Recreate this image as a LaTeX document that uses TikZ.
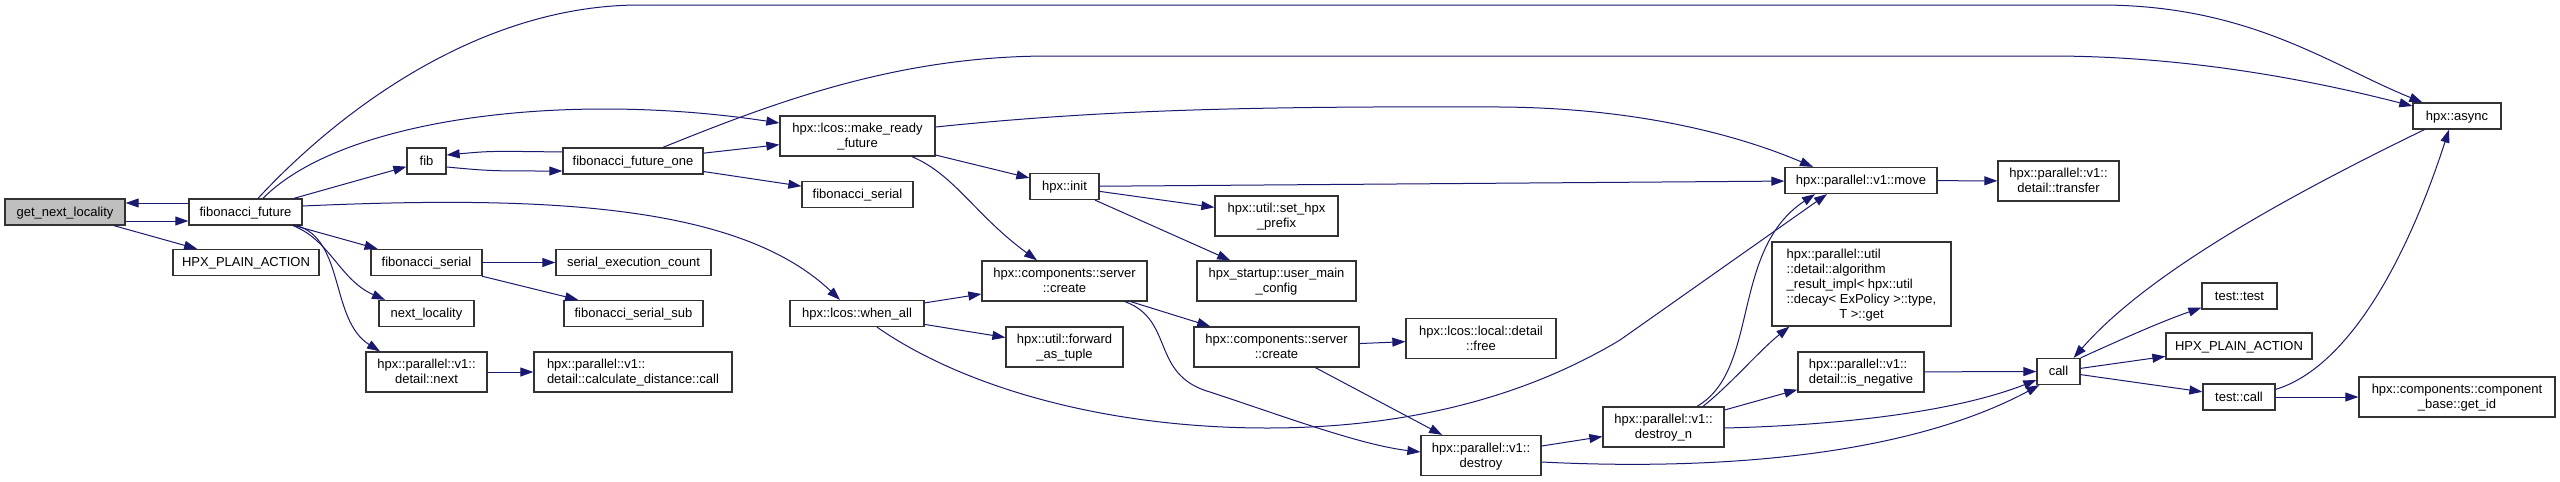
\documentclass[tikz,border=0pt]{standalone}
\usepackage{fontspec}
\setmainfont{Liberation Sans}
\usetikzlibrary{arrows.meta}
\definecolor{edgeblue}{RGB}{25,25,112}
\definecolor{rootgray}{RGB}{191,191,191}
\tikzset{
fn_base/.style={rectangle, draw=black!80, line width=1.3pt, fill=white, inner sep=0pt, minimum height=26pt, text height=10pt, text depth=2pt, font=\fontsize{13pt}{15pt}\selectfont},
fn_box/.style={fn_base, align=center},
fn_two/.style={fn_box, minimum height=40pt, text height=25pt, text depth=2pt},
fn_root/.style={fn_box, fill=rootgray},
fn_table/.style={fn_base, minimum height=84pt, text depth=62pt},
call_edge/.style={draw=edgeblue, line width=1pt, -{Triangle[length=13pt, width=9pt]}}
}

\begin{document}
\begin{tikzpicture}[x=1pt, y=-1pt]
    \path[use as bounding box, fill=white] (0,0) rectangle (2560,482);
    \node[fn_root, minimum width=120pt] (get_next) at (65,212) {get\_next\_locality};
    \node[fn_box, minimum width=113pt] (fib_future) at (245.5,212) {fibonacci\_future};
    \node[fn_box, minimum width=146pt] (plain_action_a) at (246,262.5) {HPX\_PLAIN\_ACTION};
    \node[fn_box, minimum width=39pt] (fib) at (426.5,161) {fib};
    \node[fn_box, minimum width=111pt] (fib_serial_a) at (426.5,262.5) {fibonacci\_serial};
    \node[fn_box, minimum width=95pt] (next_loc) at (426.5,313.5) {next\_locality};
    \node[fn_two, minimum width=121pt] (detail_next) at (426.5,372) {hpx::parallel::v1::\\detail::next};
    \node[fn_box, minimum width=140pt] (fib_future_one) at (633,161) {fibonacci\_future\_one};
    \node[fn_box, minimum width=155pt] (serial_count) at (633.5,262.5) {serial\_execution\_count};
    \node[fn_box, minimum width=139pt] (fib_serial_sub) at (633.5,313.5) {fibonacci\_serial\_sub};
    \node[fn_two, minimum width=198pt, align=left] (calc_dist) at (633,372) {hpx::parallel::v1::\\detail::calculate\_distance::call};
    \node[fn_two, minimum width=155pt] (make_ready) at (857.5,136) {hpx::lcos::make\_ready\\\_future};
    \node[fn_box, minimum width=111pt] (fib_serial_b) at (857.5,194.5) {fibonacci\_serial};
    \node[fn_box, minimum width=134pt] (when_all) at (857,313.5) {hpx::lcos::when\_all};
    \node[fn_box, minimum width=69pt] (hpx_init) at (1064.5,186.5) {hpx::init};
    \node[fn_two, minimum width=165pt] (server_create_a) at (1064.5,281) {hpx::components::server\\::create};
    \node[fn_two, minimum width=117pt] (fwd_tuple) at (1064.5,347) {hpx::util::forward\\\_as\_tuple};
    \node[fn_two, minimum width=123pt] (set_prefix) at (1276.5,216) {hpx::util::set\_hpx\\\_prefix};
    \node[fn_two, minimum width=159pt] (main_config) at (1276.5,281) {hpx\_startup::user\_main\\\_config};
    \node[fn_two, minimum width=165pt] (server_create_b) at (1276.5,347) {hpx::components::server\\::create};
    \node[fn_two, minimum width=150pt] (local_free) at (1481,338.5) {hpx::lcos::local::detail\\::free};
    \node[fn_two, minimum width=120pt] (destroy) at (1481,455.5) {hpx::parallel::v1::\\destroy};
    \node[fn_two, minimum width=121pt] (destroy_n) at (1663.5,427) {hpx::parallel::v1::\\destroy\_n};
    \node[fn_box, minimum width=152pt] (move) at (1861,180.5) {hpx::parallel::v1::move};
    \node[fn_table, minimum width=179pt] (algo_get) at (1861.5,284) {\begin{tabular}[t]{@{}l@{}}hpx::parallel::util\\::detail::algorithm\\\_result\_impl< hpx::util\\::decay< ExPolicy >::type,\\\multicolumn{1}{@{}c@{}}{T >::get}\end{tabular}};
    \node[fn_two, minimum width=126pt, align=left] (is_negative) at (1861,372) {hpx::parallel::v1::\\detail::is\_negative};
    \node[fn_two, minimum width=121pt] (transfer) at (2058.5,181) {hpx::parallel::v1::\\detail::transfer};
    \node[fn_box, minimum width=43pt] (call) at (2058.5,371.5) {call};
    \node[fn_box, minimum width=75pt] (test_test) at (2239.5,296) {test::test};
    \node[fn_box, minimum width=146pt] (plain_action_b) at (2239,346) {HPX\_PLAIN\_ACTION};
    \node[fn_box, minimum width=72pt] (test_call) at (2239,397) {test::call};
    \node[fn_box, minimum width=88pt] (async) at (2457,116) {hpx::async};
    \node[fn_two, minimum width=196pt] (get_id) at (2457,397) {hpx::components::component\\\_base::get\_id};

    \draw[call_edge] ([yshift=-9pt]get_next.east) -- ([yshift=-9pt]fib_future.west);
    \draw[call_edge] ([yshift=9pt]fib_future.west) -- ([yshift=9pt]get_next.east);
    \draw[call_edge] (get_next) -- (plain_action_a);
    \draw[call_edge] ([xshift=12.5pt]fib_future.north) .. controls (340,110) and (480,5) .. (640,5) -- (2100,5) .. controls (2250,5) and (2330,65) .. ([xshift=10pt]async.north west);
    \draw[call_edge] ([xshift=17.5pt]fib_future.north) .. controls (340,120) and (560,90) .. ([yshift=13pt]make_ready.west);
    \draw[call_edge] (fib_future) -- (fib);
    \draw[call_edge] ([yshift=6pt]fib_future.east) .. controls (550,195) and (740,205) .. ([xshift=-17pt]when_all.north);
    \draw[call_edge] (fib_future) -- (fib_serial_a);
    \draw[call_edge] ([xshift=47.5pt]fib_future.south) .. controls (330,240) and (340,280) .. ([xshift=-41.5pt]next_loc.north);
    \draw[call_edge] ([xshift=51.5pt]fib_future.south) .. controls (345,240) and (330,320) .. ([xshift=-46.5pt]detail_next.north);
    \draw[call_edge] ([yshift=-6pt]fib.east) .. controls (490,171) .. ([yshift=-10pt]fib_future_one.west);
    \draw[call_edge] ([yshift=9pt]fib_future_one.west) .. controls (490,151) .. ([yshift=6pt]fib.east);
    \draw[call_edge] (fib_future_one) -- (make_ready);
    \draw[call_edge] (fib_future_one) -- (fib_serial_b);
    \draw[call_edge] ([xshift=30pt]fib_future_one.north) .. controls (780,100) and (900,56) .. (1050,56) -- (2050,56) .. controls (2200,56) and (2330,85) .. ([yshift=10pt]async.west);
    \draw[call_edge] (fib_serial_a) -- (serial_count);
    \draw[call_edge] (fib_serial_a) -- (fib_serial_sub);
    \draw[call_edge] (detail_next) -- (calc_dist);
    \draw[call_edge] (make_ready) -- (hpx_init);
    \draw[call_edge] ([xshift=54.5pt]make_ready.south) .. controls (955,175) and (975,215) .. ([xshift=-27.5pt]server_create_a.north);
    \draw[call_edge] ([yshift=9pt]make_ready.east) .. controls (1100,110) and (1250,106) .. (1500,107) .. controls (1650,108) and (1750,140) .. ([xshift=-48pt]move.north);
    \draw[call_edge] (hpx_init) -- (move);
    \draw[call_edge] (hpx_init) -- (set_prefix);
    \draw[call_edge] (hpx_init) -- (main_config);
    \draw[call_edge] (when_all) -- (server_create_a);
    \draw[call_edge] (when_all) -- (fwd_tuple);
    \draw[call_edge] ([xshift=20pt]when_all.south) .. controls (960,385) and (1100,428) .. (1267,428) .. controls (1400,428) and (1520,400) .. (1620,340) -- ([xshift=-34pt]move.south);
    \draw[call_edge] (server_create_a) -- (server_create_b);
    \draw[call_edge] ([xshift=60.5pt]server_create_a.south) .. controls (1175,320) and (1150,375) .. (1210,392) .. controls (1280,415) and (1360,445) .. ([yshift=3.5pt]destroy.west);
    \draw[call_edge] (server_create_b) -- (local_free);
    \draw[call_edge] (server_create_b) -- (destroy);
    \draw[call_edge] (destroy) -- (destroy_n);
    \draw[call_edge] ([yshift=-6.5pt]destroy.east) .. controls (1700,470) and (1900,460) .. ([xshift=3pt]call.south west);
    \draw[call_edge] ([xshift=33.5pt]destroy_n.north) .. controls (1760,370) and (1730,250) .. ([xshift=-46pt]move.south);
    \draw[call_edge] ([xshift=39.5pt]destroy_n.north) .. controls (1730,385) and (1760,350) .. ([xshift=18pt]algo_get.south west);
    \draw[call_edge] (destroy_n) -- (is_negative);
    \draw[call_edge] ([yshift=-1pt]destroy_n.east) .. controls (1850,425) and (1960,410) .. ([yshift=-8.5pt]call.west);
    \draw[call_edge] (is_negative) -- (call);
    \draw[call_edge] (move) -- (transfer);
    \draw[call_edge] (call.north east) .. controls (2120,340) and (2160,322) .. ([yshift=2pt]test_test.south west);
    \draw[call_edge] (call) -- (plain_action_b);
    \draw[call_edge] (call) -- (test_call);
    \draw[call_edge] ([xshift=12pt]async.south west) .. controls (2300,190) and (2150,270) .. ([xshift=-7pt]call.north east);
    \draw[call_edge] ([yshift=-6pt]test_call.north east) .. controls (2340,370) and (2400,280) .. ([xshift=-8pt]async.south);
    \draw[call_edge] (test_call) -- (get_id);
\end{tikzpicture}
\end{document}
